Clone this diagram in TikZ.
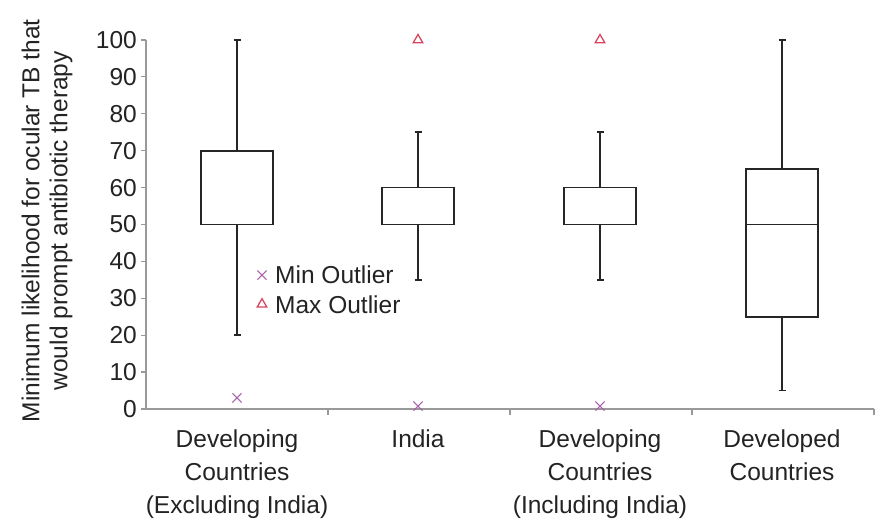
\documentclass[tikz,border=0pt]{standalone}
\usepackage{fontspec}
\setmainfont{Liberation Sans}
\usepackage{tikz}
\usetikzlibrary{shapes.misc,shapes.geometric}
\colorlet{axisGray}{black!40}
\colorlet{boxLine}{black!85}
\definecolor{minOutlier}{RGB}{170,95,170}
\definecolor{maxOutlier}{RGB}{215,70,95}
\definecolor{labelText}{RGB}{35,35,35}

\begin{document}
\begin{tikzpicture}[
  x=1pt,
  y=3.69pt,
  every node/.style={
    text=labelText,
    font=\fontsize{24.5}{33}\selectfont,
  },
  axis line/.style={
    draw=axisGray,
    line width=1.2pt,
  },
  box plot/.style={
    draw=boxLine,
    line width=1.8pt,
  },
  min outlier/.style={
    cross out,
    draw=minOutlier,
    line width=1.1pt,
    minimum size=8pt,
    inner sep=0pt,
  },
  max outlier/.style={
    regular polygon,
    regular polygon sides=3,
    draw=maxOutlier,
    line width=1.3pt,
    minimum size=11pt,
    inner sep=0pt,
  },
]
\useasboundingbox (-146,-30.08) rectangle (735,110.84);
% axes
\draw[axis line] (0,100) -- (0,0) -- (728,0);
\foreach \v in {0,10,...,100} {
  \draw[axis line] (-5,\v) -- (0,\v);
  \node[anchor=east,inner sep=0pt] (tick\v) at (-9,\v) {\v};
}
\foreach \x in {182,364,546,728}
  \draw[axis line] (\x,0) -- (\x,-1.6);
\node[rotate=90,align=center,font=\fontsize{24.5}{28}\selectfont] (ylabel) at (-99,51)
  {Minimum likelihood for ocular TB that\\would prompt antibiotic therapy};
% boxes: center, whisker low, q1, median, q3, whisker high
\foreach \c/\lo/\qa/\md/\qb/\hi in {91/20/50/50/70/100,272/35/50/50/60/75,454/35/50/50/60/75,636/5/25/50/65/100} {
  \draw[box plot] (\c-36,\qa) rectangle (\c+36,\qb);
  \draw[box plot] (\c-36,\md) -- (\c+36,\md);
  \draw[box plot] (\c,\qb) -- (\c,\hi);
  \draw[box plot] (\c,\qa) -- (\c,\lo);
  \draw[box plot] (\c-3.5,\hi) -- (\c+3.5,\hi);
  \draw[box plot] (\c-3.5,\lo) -- (\c+3.5,\lo);
}
% outliers
\node[min outlier] (minA) at (91,3) {};
\node[min outlier] (minB) at (272,0.8) {};
\node[min outlier] (minC) at (454,0.8) {};
\node[max outlier] (maxB) at (272,100) {};
\node[max outlier] (maxC) at (454,100) {};
% legend
\node[min outlier] (legMin) at (116,36.3) {};
\node[anchor=west,inner sep=0pt] (legMinText) at (129,36.3) {Min Outlier};
\node[max outlier] (legMax) at (116,28.4) {};
\node[anchor=west,inner sep=0pt] (legMaxText) at (129,28.2) {Max Outlier};
% categories
\node[anchor=north,align=center] (catA) at (91,-4.6) {Developing\\Countries\\(Excluding India)};
\node[anchor=north,align=center] (catB) at (272,-4.6) {India};
\node[anchor=north,align=center] (catC) at (454,-4.6) {Developing\\Countries\\(Including India)};
\node[anchor=north,align=center] (catD) at (636,-4.6) {Developed\\Countries};
\end{tikzpicture}
\end{document}
